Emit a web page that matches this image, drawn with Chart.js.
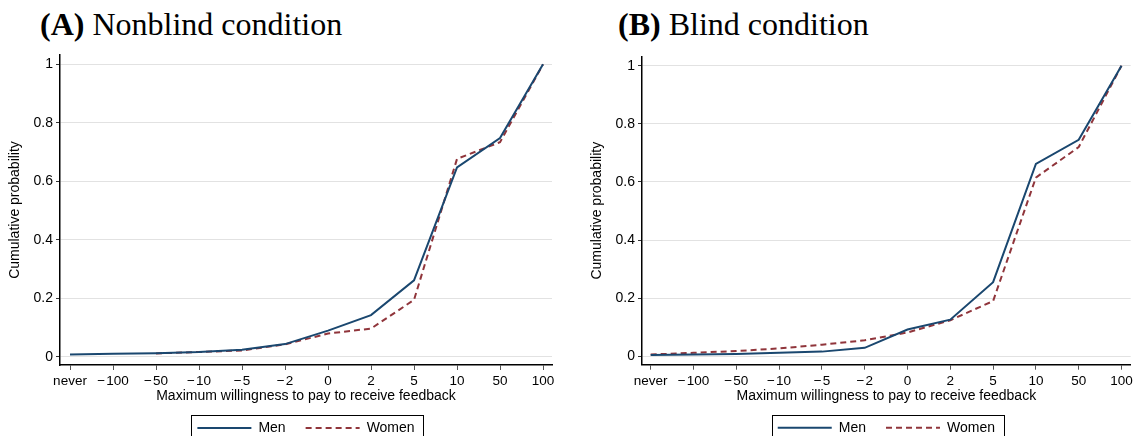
<!DOCTYPE html>
<html><head><meta charset="utf-8">
<script src="https://cdn.jsdelivr.net/npm/chart.js@4.4.0/dist/chart.umd.min.js"></script>
<style>
html,body{margin:0;padding:0;background:#fff;}
body{width:1137px;height:436px;position:relative;overflow:hidden;}
.title{position:absolute;font-family:"Liberation Serif","Times New Roman",serif;font-size:32px;line-height:1;color:#000;white-space:nowrap;}
.wrap{position:absolute;top:0;height:436px;}
</style></head><body>
<div class="title" style="left:40px;top:8px"><b>(A)</b> Nonblind condition</div>
<div class="title" style="left:618px;top:8px"><b>(B)</b> Blind condition</div>
<div class="wrap" style="left:0;width:570px"><canvas id="cA"></canvas></div>
<div class="wrap" style="left:582px;width:555px"><canvas id="cB"></canvas></div>
<script>
const categories = ['never','\u2212\u200a100','\u2212\u200a50','\u2212\u200a10','\u2212\u200a5','\u2212\u200a2','0','2','5','10','50','100'];
const yTicks = [0, 0.2, 0.4, 0.6, 0.8, 1];
const yTickLabels = ['0', '0.2', '0.4', '0.6', '0.8', '1'];
const seriesNames = ['Men', 'Women'];
const nonblindMen   = [0.008, 0.011, 0.013, 0.017, 0.025, 0.044, 0.090, 0.143, 0.262, 0.648, 0.748, 1.0];
const nonblindWomen = [null,  null,  0.012, 0.017, 0.022, 0.043, 0.080, 0.097, 0.195, 0.677, 0.734, 1.0];
const blindMen      = [0.004, 0.006, 0.008, 0.012, 0.016, 0.029, 0.092, 0.126, 0.255, 0.662, 0.745, 1.0];
const blindWomen    = [0.006, 0.012, 0.018, 0.027, 0.040, 0.055, 0.082, 0.124, 0.190, 0.615, 0.720, 1.0];

Chart.defaults.font.family = "'Liberation Sans', Arial, Helvetica, sans-serif";
Chart.defaults.color = '#000';

const legendBorder = {
  id: 'legendBorder',
  afterDraw(chart) {
    const lg = chart.legend;
    if (!lg || !lg.legendHitBoxes || !lg.legendHitBoxes.length) return;
    const hb = lg.legendHitBoxes;
    const l = Math.min(...hb.map(h => h.left)) - 6;
    const r = Math.max(...hb.map(h => h.left + h.width)) + 9;
    const t = Math.min(...hb.map(h => h.top)) - 6;
    const ctx = chart.ctx;
    ctx.save();
    ctx.strokeStyle = '#000';
    ctx.lineWidth = 1;
    ctx.strokeRect(Math.round(l) + 0.5, Math.round(t) + 0.5, Math.round(r - l), 60);
    ctx.restore();
  }
};

const XH = 36, LP = 20, FS = 14;

function legendLabels(chart) {
  const items = Chart.defaults.plugins.legend.labels.generateLabels(chart);
  items.forEach(it => {
    const ds = chart.data.datasets[it.datasetIndex];
    it.lineDash = ds.borderDash || [];
    it.strokeStyle = ds.borderColor;
    it.fillStyle = ds.borderColor;
    it.lineWidth = ds.borderWidth;
  });
  return items;
}

function makeChart(id, men, women, g) {
  const toXY = arr => arr.map((v, i) => ({x: i, y: v}));
  return new Chart(document.getElementById(id), {
    type: 'line',
    data: {
      datasets: [
        {label: seriesNames[0], data: toXY(men), borderColor: '#1a476f', backgroundColor: '#1a476f',
         borderWidth: 2, pointRadius: 0, tension: 0, spanGaps: false, pointStyle: 'line'},
        {label: seriesNames[1], data: toXY(women), borderColor: '#90353b', backgroundColor: '#90353b',
         borderWidth: 2, borderDash: [6, 4], pointRadius: 0, tension: 0, spanGaps: false, pointStyle: 'line'}
      ]
    },
    options: {
      responsive: true, maintainAspectRatio: false, animation: false,
      layout: {padding: {top: g.top, left: 0, right: g.right, bottom: 436 - (g.bottom + XH + FS + 2 * LP) + 8}},
      plugins: {
        tooltip: {enabled: false},
        legend: {
          display: true, position: 'bottom', fullSize: false, align: 'center',
          labels: {usePointStyle: true, pointStyleWidth: 54, padding: LP, color: '#000',
                   font: {size: FS}, generateLabels: legendLabels}
        }
      },
      scales: {
        x: {
          type: 'linear', min: g.xmin, max: g.xmax,
          afterBuildTicks: s => { s.ticks = categories.map((c, i) => ({value: i})); },
          afterFit: s => { s.height = XH; },
          ticks: {callback: v => categories[v], autoSkip: false, maxRotation: 0, minRotation: 0,
                  padding: 3, font: {size: 13.5}, color: '#000'},
          grid: {drawOnChartArea: false, drawTicks: true, tickLength: 5, color: '#555', tickColor: '#555'},
          border: {display: true, color: '#000', width: 1.5},
          title: {display: true, text: 'Maximum willingness to pay to receive feedback',
                  font: {size: 14}, color: '#000', padding: {top: 0, bottom: -4}}
        },
        y: {
          type: 'linear', min: g.ymin, max: g.ymax,
          afterBuildTicks: s => { s.ticks = yTicks.map(v => ({value: v})); },
          afterFit: s => { s.width = 60; },
          ticks: {callback: (v, i) => yTickLabels[yTicks.indexOf(v)], padding: 3, font: {size: 14}, color: '#000'},
          grid: {color: '#e2e2e2', lineWidth: 1, drawTicks: true, tickLength: 4, tickColor: '#333'},
          border: {display: true, color: '#000', width: 1.5},
          title: {display: true, text: 'Cumulative probability', font: {size: 14}, color: '#000',
                  padding: {top: 7, bottom: 0}}
        }
      }
    },
    plugins: [legendBorder]
  });
}

makeChart('cA', nonblindMen, nonblindWomen,
  {top: 55, right: 18, bottom: 363, xmin: -0.2326, xmax: 11.209, ymin: -0.0275, ymax: 1.032});
makeChart('cB', blindMen, blindWomen,
  {top: 56.7, right: 6.3, bottom: 362.7, xmin: -0.203, xmax: 11.215, ymin: -0.029, ymax: 1.031});
</script>
</body></html>
